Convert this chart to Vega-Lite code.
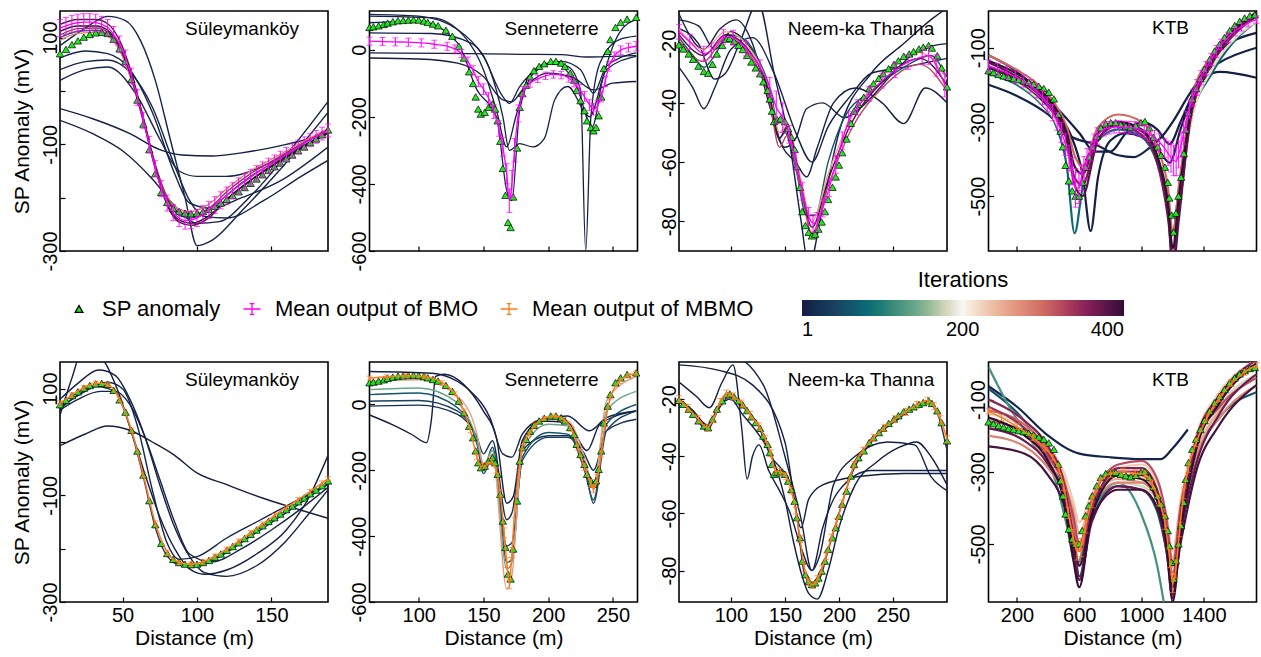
{
"$schema":"https://vega.github.io/schema/vega-lite/v6.json",
"padding":{"left":10,"top":9,"right":0,"bottom":0},
"background":"white",
"config":{
"font":"Liberation Sans",
"view":{"stroke":"black","strokeWidth":1.6},
"axis":{"domain":false,"grid":false,"ticks":true,"tickColor":"black","tickSize":-5,"tickWidth":1.2,"labelFont":"Liberation Sans","labelFontSize":20,"labelColor":"black","labelFlush":false,"labelOverlap":false,"labelBound":false,"titleFont":"Liberation Sans","titleFontSize":21,"titleFontWeight":"normal","titleColor":"black"},
"axisY":{"labelAngle":-90,"labelAlign":"center","labelBaseline":"bottom","labelPadding":5,"titlePadding":8},
"axisX":{"labelPadding":8,"titlePadding":2},
"title":{"anchor":"middle","frame":"group","dx":48,"offset":-28,"baseline":"alphabetic","fontSize":19,"fontWeight":"normal","font":"Liberation Sans","color":"black"},
"legend":{"labelFont":"Liberation Sans","titleFont":"Liberation Sans","labelColor":"black","titleColor":"black","padding":0,"labelLimit":400}
},
"datasets":{
"s_sul":[{"x":8,"y":70},{"x":12,"y":78},{"x":16,"y":87},{"x":20,"y":94},{"x":24,"y":101},{"x":28,"y":106},{"x":32,"y":109},{"x":36,"y":110},{"x":40,"y":108},{"x":44,"y":97},{"x":48,"y":79},{"x":52,"y":56},{"x":56,"y":22},{"x":60,"y":-17},{"x":64,"y":-62},{"x":68,"y":-110},{"x":72,"y":-155},{"x":76,"y":-190},{"x":80,"y":-209},{"x":84,"y":-220},{"x":88,"y":-226},{"x":92,"y":-229},{"x":96,"y":-230},{"x":100,"y":-229},{"x":104,"y":-226},{"x":108,"y":-222},{"x":112,"y":-216},{"x":116,"y":-210},{"x":120,"y":-203},{"x":124,"y":-196},{"x":128,"y":-189},{"x":132,"y":-181},{"x":136,"y":-173},{"x":140,"y":-165},{"x":144,"y":-157},{"x":148,"y":-149},{"x":152,"y":-142},{"x":156,"y":-135},{"x":160,"y":-127},{"x":164,"y":-120},{"x":168,"y":-112},{"x":172,"y":-105},{"x":176,"y":-97},{"x":180,"y":-90},{"x":184,"y":-82},{"x":188,"y":-73}],
"b_sul":[{"x":8,"y":118,"l":102,"h":134},{"x":12,"y":122,"l":106,"h":138},{"x":16,"y":126,"l":110,"h":142},{"x":20,"y":128,"l":112,"h":144},{"x":24,"y":129,"l":113,"h":145},{"x":28,"y":129,"l":113,"h":145},{"x":32,"y":128,"l":112,"h":144},{"x":36,"y":125,"l":110,"h":140},{"x":40,"y":119,"l":104,"h":134},{"x":44,"y":106,"l":91,"h":121},{"x":48,"y":88,"l":73,"h":103},{"x":52,"y":62,"l":47,"h":77},{"x":56,"y":28,"l":13,"h":43},{"x":60,"y":-12,"l":-27,"h":3},{"x":64,"y":-55,"l":-70,"h":-40},{"x":68,"y":-100,"l":-115,"h":-85},{"x":72,"y":-145,"l":-160,"h":-130},{"x":76,"y":-183,"l":-198,"h":-168},{"x":80,"y":-210,"l":-225,"h":-195},{"x":84,"y":-228,"l":-243,"h":-213},{"x":88,"y":-238,"l":-254,"h":-222},{"x":92,"y":-243,"l":-259,"h":-227},{"x":96,"y":-242,"l":-258,"h":-226},{"x":100,"y":-238,"l":-254,"h":-222},{"x":104,"y":-231,"l":-247,"h":-215},{"x":108,"y":-223,"l":-239,"h":-207},{"x":112,"y":-214,"l":-230,"h":-198},{"x":116,"y":-205,"l":-221,"h":-189},{"x":120,"y":-196,"l":-212,"h":-180},{"x":124,"y":-187,"l":-202,"h":-172},{"x":128,"y":-178,"l":-193,"h":-163},{"x":132,"y":-170,"l":-185,"h":-155},{"x":136,"y":-162,"l":-177,"h":-147},{"x":140,"y":-154,"l":-168,"h":-140},{"x":144,"y":-147,"l":-161,"h":-133},{"x":148,"y":-140,"l":-154,"h":-126},{"x":152,"y":-133,"l":-146,"h":-120},{"x":156,"y":-126,"l":-139,"h":-113},{"x":160,"y":-119,"l":-132,"h":-106},{"x":164,"y":-112,"l":-125,"h":-99},{"x":168,"y":-105,"l":-118,"h":-92},{"x":172,"y":-98,"l":-110,"h":-86},{"x":176,"y":-92,"l":-104,"h":-80},{"x":180,"y":-86,"l":-98,"h":-74},{"x":184,"y":-80,"l":-92,"h":-68},{"x":188,"y":-74,"l":-86,"h":-62}],
"m_sul":[{"x":8,"y":73,"l":69,"h":77},{"x":16,"y":88,"l":84,"h":92},{"x":24,"y":102,"l":98,"h":106},{"x":32,"y":110,"l":106,"h":114},{"x":40,"y":108,"l":104,"h":112},{"x":48,"y":80,"l":76,"h":84},{"x":56,"y":22,"l":18,"h":26},{"x":64,"y":-62,"l":-66,"h":-58},{"x":72,"y":-152,"l":-156,"h":-148},{"x":80,"y":-207,"l":-211,"h":-203},{"x":88,"y":-226,"l":-230,"h":-222},{"x":96,"y":-229,"l":-233,"h":-225},{"x":104,"y":-225,"l":-229,"h":-221},{"x":112,"y":-214,"l":-218,"h":-210},{"x":120,"y":-201,"l":-205,"h":-197},{"x":128,"y":-186,"l":-190,"h":-182},{"x":136,"y":-170,"l":-174,"h":-166},{"x":144,"y":-154,"l":-158,"h":-150},{"x":152,"y":-138,"l":-142,"h":-134},{"x":160,"y":-123,"l":-127,"h":-119},{"x":168,"y":-108,"l":-112,"h":-104},{"x":176,"y":-93,"l":-97,"h":-89},{"x":184,"y":-77,"l":-81,"h":-73},{"x":188,"y":-69,"l":-73,"h":-65}],
"t_sul":[
{"i":1,"x":8,"y":-33},{"i":1,"x":30,"y":-52},{"i":1,"x":55,"y":-80},{"i":1,"x":75,"y":-110},{"i":1,"x":90,"y":-120},{"i":1,"x":110,"y":-122},{"i":1,"x":130,"y":-116},{"i":1,"x":160,"y":-100},{"i":1,"x":188,"y":-80},
{"i":3,"x":8,"y":-55},{"i":3,"x":30,"y":-80},{"i":3,"x":50,"y":-112},{"i":3,"x":70,"y":-165},{"i":3,"x":85,"y":-215},{"i":3,"x":100,"y":-248},{"i":3,"x":115,"y":-245},{"i":3,"x":135,"y":-200},{"i":3,"x":160,"y":-120},{"i":3,"x":188,"y":-20},
{"i":5,"x":8,"y":40},{"i":5,"x":25,"y":55},{"i":5,"x":40,"y":58},{"i":5,"x":55,"y":35},{"i":5,"x":70,"y":-30},{"i":5,"x":85,"y":-140},{"i":5,"x":95,"y":-205},{"i":5,"x":105,"y":-235},{"i":5,"x":120,"y":-238},{"i":5,"x":145,"y":-205},{"i":5,"x":170,"y":-160},{"i":5,"x":188,"y":-130},
{"i":7,"x":8,"y":85},{"i":7,"x":25,"y":118},{"i":7,"x":40,"y":140},{"i":7,"x":52,"y":132},{"i":7,"x":62,"y":95},{"i":7,"x":72,"y":20},{"i":7,"x":82,"y":-90},{"i":7,"x":92,"y":-200},{"i":7,"x":100,"y":-290},{"i":7,"x":110,"y":-280},{"i":7,"x":130,"y":-225},{"i":7,"x":155,"y":-150},{"i":7,"x":175,"y":-85},{"i":7,"x":188,"y":-40},
{"i":9,"x":8,"y":62},{"i":9,"x":25,"y":75},{"i":9,"x":40,"y":70},{"i":9,"x":55,"y":40},{"i":9,"x":70,"y":-40},{"i":9,"x":85,"y":-155},{"i":9,"x":95,"y":-210},{"i":9,"x":110,"y":-220},{"i":9,"x":130,"y":-200},{"i":9,"x":155,"y":-170},{"i":9,"x":188,"y":-105},
{"i":12,"x":8,"y":20},{"i":12,"x":25,"y":40},{"i":12,"x":40,"y":45},{"i":12,"x":60,"y":-10},{"i":12,"x":75,"y":-90},{"i":12,"x":88,"y":-150},{"i":12,"x":100,"y":-160},{"i":12,"x":120,"y":-160},{"i":12,"x":145,"y":-140},{"i":12,"x":170,"y":-100},{"i":12,"x":188,"y":-73},
{"i":60,"x":8,"y":100},{"i":60,"x":20,"y":112},{"i":60,"x":32,"y":114},{"i":60,"x":40,"y":106},{"i":60,"x":48,"y":78},{"i":60,"x":56,"y":22},{"i":60,"x":64,"y":-54},{"i":60,"x":72,"y":-139},{"i":60,"x":80,"y":-203},{"i":60,"x":88,"y":-233},{"i":60,"x":96,"y":-238},{"i":60,"x":108,"y":-224},{"i":60,"x":120,"y":-195},{"i":60,"x":136,"y":-160},{"i":60,"x":152,"y":-133},{"i":60,"x":170,"y":-104},{"i":60,"x":188,"y":-80},
{"i":280,"x":8,"y":95},{"i":280,"x":20,"y":108},{"i":280,"x":32,"y":110},{"i":280,"x":40,"y":103},{"i":280,"x":48,"y":76},{"i":280,"x":56,"y":20},{"i":280,"x":64,"y":-56},{"i":280,"x":72,"y":-140},{"i":280,"x":80,"y":-198},{"i":280,"x":88,"y":-222},{"i":280,"x":96,"y":-226},{"i":280,"x":108,"y":-212},{"i":280,"x":120,"y":-183},{"i":280,"x":136,"y":-150},{"i":280,"x":152,"y":-125},{"i":280,"x":170,"y":-97},{"i":280,"x":188,"y":-70},
{"i":340,"x":8,"y":105},{"i":340,"x":20,"y":117},{"i":340,"x":32,"y":118},{"i":340,"x":40,"y":110},{"i":340,"x":48,"y":82},{"i":340,"x":56,"y":26},{"i":340,"x":64,"y":-52},{"i":340,"x":72,"y":-138},{"i":340,"x":80,"y":-200},{"i":340,"x":88,"y":-228},{"i":340,"x":96,"y":-232},{"i":340,"x":108,"y":-220},{"i":340,"x":120,"y":-189},{"i":340,"x":136,"y":-155},{"i":340,"x":152,"y":-129},{"i":340,"x":170,"y":-100},{"i":340,"x":188,"y":-73},
{"i":380,"x":8,"y":125},{"i":380,"x":20,"y":134},{"i":380,"x":32,"y":134},{"i":380,"x":40,"y":126},{"i":380,"x":48,"y":95},{"i":380,"x":56,"y":34},{"i":380,"x":64,"y":-50},{"i":380,"x":72,"y":-143},{"i":380,"x":80,"y":-214},{"i":380,"x":88,"y":-246},{"i":380,"x":96,"y":-252},{"i":380,"x":108,"y":-238},{"i":380,"x":120,"y":-203},{"i":380,"x":136,"y":-167},{"i":380,"x":152,"y":-136},{"i":380,"x":170,"y":-106},{"i":380,"x":188,"y":-76},
{"i":400,"x":8,"y":112},{"i":400,"x":20,"y":122},{"i":400,"x":32,"y":122},{"i":400,"x":40,"y":114},{"i":400,"x":48,"y":84},{"i":400,"x":56,"y":25},{"i":400,"x":64,"y":-57},{"i":400,"x":72,"y":-146},{"i":400,"x":80,"y":-212},{"i":400,"x":88,"y":-242},{"i":400,"x":96,"y":-248},{"i":400,"x":108,"y":-234},{"i":400,"x":120,"y":-203},{"i":400,"x":136,"y":-168},{"i":400,"x":152,"y":-138},{"i":400,"x":170,"y":-108},{"i":400,"x":188,"y":-79}],
"u_sul":[
{"i":1,"x":8,"y":-7},{"i":1,"x":25,"y":15},{"i":1,"x":40,"y":30},{"i":1,"x":55,"y":22},{"i":1,"x":70,"y":0},{"i":1,"x":85,"y":-25},{"i":1,"x":100,"y":-58},{"i":1,"x":120,"y":-80},{"i":1,"x":145,"y":-106},{"i":1,"x":170,"y":-128},{"i":1,"x":188,"y":-143},
{"i":2,"x":8,"y":50},{"i":2,"x":16,"y":120},{"i":2,"x":22,"y":165},{"i":2,"x":30,"y":170},{"i":2,"x":38,"y":150},{"i":2,"x":47,"y":95},{"i":2,"x":56,"y":20},{"i":2,"x":65,"y":-60},{"i":2,"x":75,"y":-140},{"i":2,"x":85,"y":-200},{"i":2,"x":95,"y":-238},{"i":2,"x":105,"y":-248},{"i":2,"x":120,"y":-240},{"i":2,"x":140,"y":-210},{"i":2,"x":160,"y":-165},{"i":2,"x":175,"y":-105},{"i":2,"x":188,"y":-25},
{"i":4,"x":8,"y":80},{"i":4,"x":20,"y":110},{"i":4,"x":34,"y":135},{"i":4,"x":45,"y":125},{"i":4,"x":55,"y":80},{"i":4,"x":65,"y":10},{"i":4,"x":75,"y":-80},{"i":4,"x":85,"y":-160},{"i":4,"x":95,"y":-215},{"i":4,"x":105,"y":-245},{"i":4,"x":120,"y":-252},{"i":4,"x":140,"y":-232},{"i":4,"x":160,"y":-185},{"i":4,"x":175,"y":-135},{"i":4,"x":188,"y":-90},
{"i":6,"x":8,"y":60},{"i":6,"x":20,"y":80},{"i":6,"x":35,"y":95},{"i":6,"x":45,"y":95},{"i":6,"x":55,"y":70},{"i":6,"x":65,"y":10},{"i":6,"x":75,"y":-70},{"i":6,"x":85,"y":-150},{"i":6,"x":95,"y":-210},{"i":6,"x":110,"y":-225},{"i":6,"x":130,"y":-200},{"i":6,"x":150,"y":-165},{"i":6,"x":170,"y":-125},{"i":6,"x":188,"y":-85},
{"i":8,"x":8,"y":65},{"i":8,"x":25,"y":95},{"i":8,"x":40,"y":112},{"i":8,"x":50,"y":100},{"i":8,"x":60,"y":30},{"i":8,"x":70,"y":-90},{"i":8,"x":80,"y":-190},{"i":8,"x":88,"y":-220},{"i":8,"x":100,"y":-215},{"i":8,"x":120,"y":-180},{"i":8,"x":140,"y":-150},{"i":8,"x":160,"y":-120},{"i":8,"x":188,"y":-80},
{"i":30,"x":8,"y":62},{"i":30,"x":20,"y":88},{"i":30,"x":32,"y":104},{"i":30,"x":44,"y":96},{"i":30,"x":56,"y":18},{"i":30,"x":64,"y":-66},{"i":30,"x":72,"y":-160},{"i":30,"x":80,"y":-214},{"i":30,"x":90,"y":-232},{"i":30,"x":100,"y":-233},{"i":30,"x":116,"y":-214},{"i":30,"x":136,"y":-177},{"i":30,"x":156,"y":-140},{"i":30,"x":176,"y":-102},{"i":30,"x":188,"y":-78}],
"s_sen":[{"x":62,"y":66},{"x":65,"y":68},{"x":69,"y":71},{"x":73,"y":75},{"x":76,"y":79},{"x":80,"y":83},{"x":84,"y":86},{"x":88,"y":87},{"x":92,"y":88},{"x":96,"y":89},{"x":100,"y":88},{"x":104,"y":85},{"x":107,"y":81},{"x":111,"y":76},{"x":115,"y":71},{"x":121,"y":58},{"x":126,"y":40},{"x":131,"y":10},{"x":135,"y":-25},{"x":139,"y":-66},{"x":142,"y":-101},{"x":144,"y":-141},{"x":146,"y":-177},{"x":148,"y":-192},{"x":151,"y":-187},{"x":154,"y":-172},{"x":157,"y":-162},{"x":159,"y":-177},{"x":161,"y":-212},{"x":163,"y":-273},{"x":165,"y":-354},{"x":167,"y":-434},{"x":169,"y":-515},{"x":171,"y":-530},{"x":173,"y":-439},{"x":176,"y":-293},{"x":178,"y":-172},{"x":180,"y":-131},{"x":183,"y":-106},{"x":186,"y":-81},{"x":189,"y":-63},{"x":193,"y":-50},{"x":197,"y":-42},{"x":202,"y":-35},{"x":206,"y":-35},{"x":210,"y":-40},{"x":213,"y":-50},{"x":217,"y":-70},{"x":220,"y":-91},{"x":222,"y":-121},{"x":225,"y":-152},{"x":228,"y":-182},{"x":230,"y":-212},{"x":233,"y":-232},{"x":235,"y":-242},{"x":237,"y":-232},{"x":239,"y":-197},{"x":241,"y":-141},{"x":243,"y":-56},{"x":246,"y":-5},{"x":248,"y":30},{"x":252,"y":66},{"x":256,"y":81},{"x":261,"y":91},{"x":268,"y":96}],
"b_sen":[{"x":62,"y":25,"l":13,"h":37},{"x":72,"y":24,"l":12,"h":36},{"x":82,"y":23,"l":11,"h":35},{"x":92,"y":22,"l":10,"h":34},{"x":102,"y":20,"l":8,"h":32},{"x":112,"y":16,"l":4,"h":28},{"x":122,"y":10,"l":-2,"h":22},{"x":128,"y":2,"l":-10,"h":14},{"x":133,"y":-12,"l":-24,"h":0},{"x":138,"y":-35,"l":-48,"h":-22},{"x":142,"y":-62,"l":-76,"h":-48},{"x":146,"y":-95,"l":-110,"h":-80},{"x":150,"y":-118,"l":-134,"h":-102},{"x":154,"y":-145,"l":-162,"h":-128},{"x":158,"y":-185,"l":-205,"h":-165},{"x":162,"y":-235,"l":-258,"h":-212},{"x":165,"y":-290,"l":-318,"h":-262},{"x":168,"y":-370,"l":-400,"h":-340},{"x":170,"y":-450,"l":-485,"h":-415},{"x":172,"y":-400,"l":-440,"h":-360},{"x":174,"y":-300,"l":-335,"h":-265},{"x":177,"y":-190,"l":-215,"h":-165},{"x":181,"y":-125,"l":-140,"h":-110},{"x":186,"y":-100,"l":-112,"h":-88},{"x":192,"y":-87,"l":-98,"h":-76},{"x":198,"y":-78,"l":-89,"h":-67},{"x":204,"y":-74,"l":-85,"h":-63},{"x":210,"y":-76,"l":-87,"h":-65},{"x":216,"y":-85,"l":-97,"h":-73},{"x":220,"y":-98,"l":-111,"h":-85},{"x":224,"y":-118,"l":-132,"h":-104},{"x":228,"y":-140,"l":-155,"h":-125},{"x":232,"y":-165,"l":-181,"h":-149},{"x":235,"y":-178,"l":-195,"h":-161},{"x":238,"y":-168,"l":-185,"h":-151},{"x":241,"y":-140,"l":-156,"h":-124},{"x":244,"y":-95,"l":-110,"h":-80},{"x":247,"y":-50,"l":-64,"h":-36},{"x":251,"y":-20,"l":-33,"h":-7},{"x":256,"y":-2,"l":-15,"h":11},{"x":262,"y":6,"l":-7,"h":19},{"x":268,"y":10,"l":-4,"h":24}],
"m_sen":[{"x":62,"y":80,"l":74,"h":86},{"x":75,"y":84,"l":78,"h":90},{"x":90,"y":87,"l":81,"h":93},{"x":105,"y":84,"l":78,"h":90},{"x":118,"y":66,"l":60,"h":72},{"x":128,"y":32,"l":26,"h":38},{"x":135,"y":-20,"l":-26,"h":-14},{"x":140,"y":-80,"l":-86,"h":-74},{"x":145,"y":-160,"l":-168,"h":-152},{"x":148,"y":-188,"l":-196,"h":-180},{"x":152,"y":-185,"l":-193,"h":-177},{"x":156,"y":-175,"l":-183,"h":-167},{"x":160,"y":-200,"l":-208,"h":-192},{"x":163,"y":-270,"l":-282,"h":-258},{"x":166,"y":-390,"l":-405,"h":-375},{"x":168,"y":-480,"l":-495,"h":-465},{"x":170,"y":-545,"l":-560,"h":-530},{"x":172,"y":-450,"l":-465,"h":-435},{"x":174,"y":-330,"l":-345,"h":-315},{"x":177,"y":-210,"l":-222,"h":-198},{"x":180,"y":-130,"l":-138,"h":-122},{"x":185,"y":-90,"l":-96,"h":-84},{"x":190,"y":-62,"l":-68,"h":-56},{"x":197,"y":-42,"l":-48,"h":-36},{"x":205,"y":-35,"l":-41,"h":-29},{"x":212,"y":-46,"l":-52,"h":-40},{"x":218,"y":-75,"l":-81,"h":-69},{"x":223,"y":-130,"l":-138,"h":-122},{"x":228,"y":-190,"l":-200,"h":-180},{"x":233,"y":-240,"l":-252,"h":-228},{"x":235,"y":-255,"l":-267,"h":-243},{"x":238,"y":-225,"l":-237,"h":-213},{"x":241,"y":-150,"l":-160,"h":-140},{"x":244,"y":-60,"l":-68,"h":-52},{"x":248,"y":20,"l":14,"h":26},{"x":255,"y":70,"l":64,"h":76},{"x":262,"y":88,"l":82,"h":94},{"x":268,"y":95,"l":89,"h":101}],
"t_sen":[
{"i":1,"x":62,"y":-10},{"i":1,"x":120,"y":-11},{"i":1,"x":180,"y":-14},{"i":1,"x":210,"y":-15},{"i":1,"x":230,"y":-22},{"i":1,"x":250,"y":-20},{"i":1,"x":268,"y":-18},
{"i":2,"x":62,"y":-25},{"i":2,"x":100,"y":-28},{"i":2,"x":130,"y":-40},{"i":2,"x":150,"y":-80},{"i":2,"x":165,"y":-150},{"i":2,"x":172,"y":-155},{"i":2,"x":180,"y":-120},{"i":2,"x":200,"y":-70},{"i":2,"x":220,"y":-85},{"i":2,"x":235,"y":-120},{"i":2,"x":250,"y":-100},{"i":2,"x":268,"y":-95},
{"i":3,"x":62,"y":100},{"i":3,"x":110,"y":95},{"i":3,"x":135,"y":40},{"i":3,"x":150,"y":-60},{"i":3,"x":160,"y":-180},{"i":3,"x":168,"y":-290},{"i":3,"x":175,"y":-200},{"i":3,"x":185,"y":-80},{"i":3,"x":200,"y":-40},{"i":3,"x":215,"y":-50},{"i":3,"x":225,"y":-120},{"i":3,"x":229,"y":-600},{"i":3,"x":233,"y":-200},{"i":3,"x":240,"y":-40},{"i":3,"x":255,"y":30},{"i":3,"x":268,"y":40},
{"i":4,"x":62,"y":50},{"i":4,"x":110,"y":48},{"i":4,"x":140,"y":20},{"i":4,"x":155,"y":-60},{"i":4,"x":165,"y":-200},{"i":4,"x":170,"y":-300},{"i":4,"x":178,"y":-280},{"i":4,"x":188,"y":-290},{"i":4,"x":197,"y":-265},{"i":4,"x":205,"y":-150},{"i":4,"x":215,"y":-110},{"i":4,"x":232,"y":-200},{"i":4,"x":245,"y":-60},{"i":4,"x":268,"y":-20},
{"i":5,"x":62,"y":105},{"i":5,"x":100,"y":100},{"i":5,"x":130,"y":60},{"i":5,"x":150,"y":-20},{"i":5,"x":165,"y":-140},{"i":5,"x":170,"y":-160},{"i":5,"x":178,"y":-110},{"i":5,"x":195,"y":-50},{"i":5,"x":210,"y":-35},{"i":5,"x":225,"y":-60},{"i":5,"x":235,"y":-130},{"i":5,"x":245,"y":-50},{"i":5,"x":268,"y":-10},
{"i":10,"x":62,"y":80},{"i":10,"x":100,"y":85},{"i":10,"x":130,"y":20},{"i":10,"x":145,"y":-120},{"i":10,"x":160,"y":-200},{"i":10,"x":168,"y":-420},{"i":10,"x":172,"y":-450},{"i":10,"x":178,"y":-180},{"i":10,"x":190,"y":-65},{"i":10,"x":205,"y":-40},{"i":10,"x":222,"y":-110},{"i":10,"x":234,"y":-230},{"i":10,"x":242,"y":-90},{"i":10,"x":255,"y":50},{"i":10,"x":268,"y":90}],
"u_sen":[
{"i":1,"x":62,"y":-32},{"i":1,"x":80,"y":-62},{"i":1,"x":95,"y":-92},{"i":1,"x":106,"y":-116},{"i":1,"x":110,"y":-40},{"i":1,"x":113,"y":85},{"i":1,"x":120,"y":92},{"i":1,"x":135,"y":60},{"i":1,"x":150,"y":-20},{"i":1,"x":160,"y":-100},{"i":1,"x":168,"y":-300},{"i":1,"x":173,"y":-280},{"i":1,"x":180,"y":-110},{"i":1,"x":195,"y":-50},{"i":1,"x":215,"y":-55},{"i":1,"x":230,"y":-140},{"i":1,"x":240,"y":-60},{"i":1,"x":268,"y":-20},
{"i":5,"x":62,"y":100},{"i":5,"x":110,"y":95},{"i":5,"x":125,"y":80},{"i":5,"x":140,"y":40},{"i":5,"x":155,"y":-40},{"i":5,"x":165,"y":-150},{"i":5,"x":172,"y":-160},{"i":5,"x":180,"y":-90},{"i":5,"x":195,"y":-45},{"i":5,"x":215,"y":-35},{"i":5,"x":232,"y":-80},{"i":5,"x":245,"y":-40},{"i":5,"x":268,"y":-20},
{"i":20,"x":62,"y":-5},{"i":20,"x":100,"y":-2},{"i":20,"x":130,"y":-30},{"i":20,"x":145,"y":-100},{"i":20,"x":150,"y":-150},{"i":20,"x":157,"y":-110},{"i":20,"x":168,"y":-350},{"i":20,"x":172,"y":-330},{"i":20,"x":180,"y":-140},{"i":20,"x":200,"y":-95},{"i":20,"x":215,"y":-95},{"i":20,"x":228,"y":-150},{"i":20,"x":235,"y":-200},{"i":20,"x":245,"y":-80},{"i":20,"x":268,"y":-45},
{"i":40,"x":62,"y":10},{"i":40,"x":100,"y":12},{"i":40,"x":130,"y":-20},{"i":40,"x":145,"y":-110},{"i":40,"x":150,"y":-200},{"i":40,"x":157,"y":-130},{"i":40,"x":168,"y":-430},{"i":40,"x":172,"y":-420},{"i":40,"x":180,"y":-170},{"i":40,"x":200,"y":-100},{"i":40,"x":215,"y":-100},{"i":40,"x":228,"y":-180},{"i":40,"x":235,"y":-300},{"i":40,"x":245,"y":-80},{"i":40,"x":268,"y":-20},
{"i":60,"x":62,"y":30},{"i":60,"x":100,"y":35},{"i":60,"x":130,"y":-10},{"i":60,"x":145,"y":-120},{"i":60,"x":150,"y":-210},{"i":60,"x":158,"y":-150},{"i":60,"x":168,"y":-480},{"i":60,"x":172,"y":-470},{"i":60,"x":180,"y":-160},{"i":60,"x":200,"y":-85},{"i":60,"x":215,"y":-90},{"i":60,"x":228,"y":-200},{"i":60,"x":235,"y":-290},{"i":60,"x":245,"y":-60},{"i":60,"x":268,"y":0},
{"i":140,"x":62,"y":45},{"i":140,"x":100,"y":50},{"i":140,"x":130,"y":5},{"i":140,"x":145,"y":-110},{"i":140,"x":150,"y":-185},{"i":140,"x":157,"y":-140},{"i":140,"x":168,"y":-500},{"i":140,"x":172,"y":-480},{"i":140,"x":180,"y":-140},{"i":140,"x":200,"y":-60},{"i":140,"x":215,"y":-65},{"i":140,"x":228,"y":-170},{"i":140,"x":235,"y":-240},{"i":140,"x":245,"y":-20},{"i":140,"x":268,"y":40},
{"i":260,"x":62,"y":70},{"i":260,"x":100,"y":75},{"i":260,"x":130,"y":25},{"i":260,"x":145,"y":-90},{"i":260,"x":150,"y":-180},{"i":260,"x":157,"y":-150},{"i":260,"x":168,"y":-560},{"i":260,"x":172,"y":-520},{"i":260,"x":180,"y":-130},{"i":260,"x":200,"y":-45},{"i":260,"x":215,"y":-50},{"i":260,"x":228,"y":-160},{"i":260,"x":235,"y":-260},{"i":260,"x":245,"y":10},{"i":260,"x":268,"y":85}],
"s_nee":[{"x":52,"y":-20.4},{"x":56,"y":-21.8},{"x":61,"y":-23.5},{"x":65,"y":-25.3},{"x":70,"y":-27.6},{"x":75,"y":-29.4},{"x":79,"y":-30},{"x":83,"y":-27},{"x":87,"y":-23.5},{"x":92,"y":-20.6},{"x":96,"y":-18.5},{"x":99,"y":-18.2},{"x":103,"y":-19.2},{"x":107,"y":-20.6},{"x":111,"y":-22},{"x":115,"y":-24},{"x":119,"y":-26.2},{"x":123,"y":-28.2},{"x":127,"y":-30.2},{"x":130,"y":-32.9},{"x":134,"y":-35.8},{"x":136,"y":-38.7},{"x":138,"y":-42.8},{"x":140,"y":-46.3},{"x":143,"y":-45.7},{"x":146,"y":-45.4},{"x":150,"y":-46.3},{"x":153,"y":-48.7},{"x":156,"y":-51.6},{"x":159,"y":-55.7},{"x":161,"y":-61.5},{"x":164,"y":-68.5},{"x":166,"y":-76.7},{"x":169,"y":-81.4},{"x":172,"y":-83.7},{"x":175,"y":-84.9},{"x":178,"y":-84.3},{"x":181,"y":-82.6},{"x":184,"y":-80.2},{"x":187,"y":-76.7},{"x":190,"y":-72.6},{"x":194,"y":-68.5},{"x":197,"y":-65},{"x":200,"y":-61},{"x":203,"y":-56.8},{"x":207,"y":-52.2},{"x":211,"y":-46.9},{"x":214,"y":-42.8},{"x":218,"y":-40.5},{"x":223,"y":-38.1},{"x":228,"y":-35.2},{"x":232,"y":-33.5},{"x":237,"y":-31.7},{"x":241,"y":-30.2},{"x":246,"y":-28.5},{"x":251,"y":-27},{"x":255,"y":-25.8},{"x":260,"y":-24.3},{"x":265,"y":-23.5},{"x":269,"y":-22.7},{"x":274,"y":-21.8},{"x":278,"y":-21.2},{"x":283,"y":-20.6},{"x":286,"y":-21.5},{"x":291,"y":-24.1},{"x":295,"y":-28.2},{"x":300,"y":-34.6}],
"b_nee":[{"x":52,"y":-16,"l":-18.5,"h":-13.5},{"x":62,"y":-19.4,"l":-21.9,"h":-16.9},{"x":75,"y":-23.4,"l":-25.9,"h":-20.9},{"x":82,"y":-22.3,"l":-24.8,"h":-19.8},{"x":93,"y":-17.7,"l":-20.2,"h":-15.2},{"x":102,"y":-18,"l":-20.5,"h":-15.5},{"x":114,"y":-21.7,"l":-24.2,"h":-19.2},{"x":127,"y":-28,"l":-30.5,"h":-25.5},{"x":136,"y":-34.7,"l":-38,"h":-31.4},{"x":142,"y":-41.5,"l":-47,"h":-36},{"x":148,"y":-45,"l":-50,"h":-40},{"x":154,"y":-50.6,"l":-53.6,"h":-47.6},{"x":160,"y":-59.6,"l":-62.6,"h":-56.6},{"x":166,"y":-69.8,"l":-72.8,"h":-66.8},{"x":172,"y":-78.3,"l":-81.3,"h":-75.3},{"x":176,"y":-80.6,"l":-83.6,"h":-77.6},{"x":180,"y":-80,"l":-83,"h":-77},{"x":185,"y":-75.5,"l":-78.5,"h":-72.5},{"x":191,"y":-68.7,"l":-71.7,"h":-65.7},{"x":197,"y":-60.8,"l":-63.8,"h":-57.8},{"x":203,"y":-52.8,"l":-55.8,"h":-49.8},{"x":209,"y":-46,"l":-49,"h":-43},{"x":217,"y":-41.5,"l":-44,"h":-39},{"x":228,"y":-37,"l":-39.5,"h":-34.5},{"x":240,"y":-32.5,"l":-35,"h":-30},{"x":252,"y":-29,"l":-31.5,"h":-26.5},{"x":264,"y":-26.2,"l":-28.7,"h":-23.7},{"x":277,"y":-24.5,"l":-27,"h":-22},{"x":283,"y":-24,"l":-27,"h":-21},{"x":290,"y":-27.4,"l":-31,"h":-23.8},{"x":298,"y":-34,"l":-38,"h":-30}],
"m_nee":[{"x":52,"y":-20,"l":-21.2,"h":-18.8},{"x":60,"y":-23,"l":-24.2,"h":-21.8},{"x":70,"y":-27,"l":-28.2,"h":-25.8},{"x":78,"y":-30,"l":-31.2,"h":-28.8},{"x":84,"y":-27,"l":-28.2,"h":-25.8},{"x":90,"y":-21,"l":-22.2,"h":-19.8},{"x":96,"y":-18,"l":-19.2,"h":-16.8},{"x":102,"y":-19,"l":-20.2,"h":-17.8},{"x":110,"y":-21.5,"l":-22.7,"h":-20.3},{"x":118,"y":-25.5,"l":-26.7,"h":-24.3},{"x":126,"y":-29.5,"l":-30.7,"h":-28.3},{"x":132,"y":-34,"l":-35.2,"h":-32.8},{"x":137,"y":-39,"l":-40.2,"h":-37.8},{"x":141,"y":-45,"l":-46.2,"h":-43.8},{"x":146,"y":-45.5,"l":-46.7,"h":-44.3},{"x":151,"y":-47,"l":-48.2,"h":-45.8},{"x":156,"y":-52,"l":-53.2,"h":-50.8},{"x":160,"y":-59,"l":-60.2,"h":-57.8},{"x":164,"y":-69,"l":-70.2,"h":-67.8},{"x":168,"y":-79,"l":-80.2,"h":-77.8},{"x":172,"y":-84,"l":-85.2,"h":-82.8},{"x":176,"y":-85,"l":-86.2,"h":-83.8},{"x":180,"y":-83,"l":-84.2,"h":-81.8},{"x":184,"y":-79.5,"l":-80.7,"h":-78.3},{"x":188,"y":-75,"l":-76.2,"h":-73.8},{"x":193,"y":-68.5,"l":-69.7,"h":-67.3},{"x":198,"y":-63,"l":-64.2,"h":-61.8},{"x":203,"y":-56.5,"l":-57.7,"h":-55.3},{"x":208,"y":-50,"l":-51.2,"h":-48.8},{"x":214,"y":-43,"l":-44.2,"h":-41.8},{"x":222,"y":-38,"l":-39.2,"h":-36.8},{"x":232,"y":-33.5,"l":-34.7,"h":-32.3},{"x":242,"y":-30,"l":-31.2,"h":-28.8},{"x":252,"y":-27,"l":-28.2,"h":-25.8},{"x":262,"y":-24.5,"l":-25.7,"h":-23.3},{"x":272,"y":-22,"l":-23.2,"h":-20.8},{"x":282,"y":-20.5,"l":-21.7,"h":-19.3},{"x":288,"y":-22.5,"l":-23.7,"h":-21.3},{"x":294,"y":-27,"l":-28.2,"h":-25.8},{"x":300,"y":-34,"l":-35.2,"h":-32.8}],
"t_nee":[
{"i":1,"x":52,"y":-15},{"i":1,"x":70,"y":-20},{"i":1,"x":85,"y":-32},{"i":1,"x":95,"y":-30},{"i":1,"x":110,"y":-18},{"i":1,"x":125,"y":-6},{"i":1,"x":140,"y":-30},{"i":1,"x":155,"y":-55},{"i":1,"x":165,"y":-80},{"i":1,"x":172,"y":-95},{"i":1,"x":185,"y":-75},{"i":1,"x":200,"y":-50},{"i":1,"x":230,"y":-30},{"i":1,"x":260,"y":-20},{"i":1,"x":285,"y":-12},{"i":1,"x":300,"y":-8},
{"i":2,"x":52,"y":-10},{"i":2,"x":75,"y":-22},{"i":2,"x":90,"y":-15},{"i":2,"x":105,"y":-12},{"i":2,"x":120,"y":-20},{"i":2,"x":135,"y":-40},{"i":2,"x":148,"y":-55},{"i":2,"x":160,"y":-60},{"i":2,"x":170,"y":-65},{"i":2,"x":180,"y":-55},{"i":2,"x":195,"y":-40},{"i":2,"x":215,"y":-35},{"i":2,"x":240,"y":-40},{"i":2,"x":260,"y":-47},{"i":2,"x":280,"y":-35},{"i":2,"x":300,"y":-40},
{"i":4,"x":52,"y":-28},{"i":4,"x":65,"y":-35},{"i":4,"x":75,"y":-42},{"i":4,"x":85,"y":-35},{"i":4,"x":100,"y":-22},{"i":4,"x":120,"y":-18},{"i":4,"x":140,"y":-30},{"i":4,"x":160,"y":-50},{"i":4,"x":175,"y":-60},{"i":4,"x":190,"y":-48},{"i":4,"x":210,"y":-38},{"i":4,"x":230,"y":-30},{"i":4,"x":260,"y":-28},{"i":4,"x":300,"y":-25},
{"i":6,"x":52,"y":-12},{"i":6,"x":70,"y":-14},{"i":6,"x":85,"y":-22},{"i":6,"x":100,"y":-16},{"i":6,"x":115,"y":-20},{"i":6,"x":130,"y":-30},{"i":6,"x":142,"y":-50},{"i":6,"x":150,"y":-55},{"i":6,"x":160,"y":-52},{"i":6,"x":170,"y":-42},{"i":6,"x":185,"y":-40},{"i":6,"x":205,"y":-45},{"i":6,"x":225,"y":-40},{"i":6,"x":250,"y":-30},{"i":6,"x":275,"y":-22},{"i":6,"x":300,"y":-20},
{"i":60,"x":52,"y":-18},{"i":60,"x":65,"y":-24},{"i":60,"x":75,"y":-28},{"i":60,"x":85,"y":-24},{"i":60,"x":98,"y":-17},{"i":60,"x":110,"y":-18},{"i":60,"x":125,"y":-25},{"i":60,"x":138,"y":-38},{"i":60,"x":145,"y":-52},{"i":60,"x":150,"y":-50},{"i":60,"x":160,"y":-62},{"i":60,"x":170,"y":-78},{"i":60,"x":178,"y":-78},{"i":60,"x":190,"y":-60},{"i":60,"x":205,"y":-45},{"i":60,"x":230,"y":-36},{"i":60,"x":260,"y":-28},{"i":60,"x":285,"y":-24},{"i":60,"x":300,"y":-32},
{"i":250,"x":52,"y":-15},{"i":250,"x":75,"y":-22},{"i":250,"x":95,"y":-16},{"i":250,"x":118,"y":-22},{"i":250,"x":135,"y":-35},{"i":250,"x":145,"y":-50},{"i":250,"x":152,"y":-47},{"i":250,"x":165,"y":-66},{"i":250,"x":175,"y":-80},{"i":250,"x":190,"y":-64},{"i":250,"x":210,"y":-46},{"i":250,"x":240,"y":-31},{"i":250,"x":275,"y":-23},{"i":250,"x":300,"y":-32},
{"i":320,"x":52,"y":-19},{"i":320,"x":75,"y":-26},{"i":320,"x":95,"y":-18},{"i":320,"x":118,"y":-24},{"i":320,"x":135,"y":-38},{"i":320,"x":145,"y":-55},{"i":320,"x":152,"y":-51},{"i":320,"x":165,"y":-70},{"i":320,"x":175,"y":-84},{"i":320,"x":190,"y":-68},{"i":320,"x":210,"y":-50},{"i":320,"x":240,"y":-35},{"i":320,"x":275,"y":-27},{"i":320,"x":300,"y":-36},
{"i":390,"x":52,"y":-17},{"i":390,"x":75,"y":-24},{"i":390,"x":95,"y":-17},{"i":390,"x":118,"y":-23},{"i":390,"x":135,"y":-36},{"i":390,"x":145,"y":-52},{"i":390,"x":152,"y":-48},{"i":390,"x":165,"y":-68},{"i":390,"x":175,"y":-82},{"i":390,"x":190,"y":-66},{"i":390,"x":210,"y":-48},{"i":390,"x":240,"y":-33},{"i":390,"x":275,"y":-25},{"i":390,"x":300,"y":-34}],
"u_nee":[
{"i":1,"x":52,"y":-20},{"i":1,"x":65,"y":-24},{"i":1,"x":78,"y":-29},{"i":1,"x":90,"y":-22},{"i":1,"x":100,"y":-20},{"i":1,"x":110,"y":-25},{"i":1,"x":125,"y":-32},{"i":1,"x":140,"y":-42},{"i":1,"x":150,"y":-55},{"i":1,"x":158,"y":-70},{"i":1,"x":166,"y":-82},{"i":1,"x":172,"y":-88},{"i":1,"x":180,"y":-90},{"i":1,"x":190,"y":-80},{"i":1,"x":200,"y":-65},{"i":1,"x":215,"y":-50},{"i":1,"x":235,"y":-42},{"i":1,"x":255,"y":-37},{"i":1,"x":272,"y":-35},{"i":1,"x":285,"y":-40},{"i":1,"x":300,"y":-50},
{"i":2,"x":52,"y":-14},{"i":2,"x":68,"y":-19},{"i":2,"x":80,"y":-23},{"i":2,"x":92,"y":-14},{"i":2,"x":102,"y":-8},{"i":2,"x":110,"y":-30},{"i":2,"x":115,"y":-48},{"i":2,"x":120,"y":-40},{"i":2,"x":126,"y":-36},{"i":2,"x":135,"y":-45},{"i":2,"x":145,"y":-52},{"i":2,"x":155,"y":-60},{"i":2,"x":165,"y":-72},{"i":2,"x":175,"y":-80},{"i":2,"x":185,"y":-65},{"i":2,"x":200,"y":-52},{"i":2,"x":230,"y":-45},{"i":2,"x":300,"y":-45},
{"i":3,"x":52,"y":-8},{"i":3,"x":90,"y":-10},{"i":3,"x":120,"y":-15},{"i":3,"x":150,"y":-35},{"i":3,"x":165,"y":-65},{"i":3,"x":172,"y":-55},{"i":3,"x":185,"y":-50},{"i":3,"x":220,"y":-47},{"i":3,"x":260,"y":-46},{"i":3,"x":300,"y":-46},
{"i":4,"x":52,"y":-5},{"i":4,"x":100,"y":-5},{"i":4,"x":130,"y":-15},{"i":4,"x":150,"y":-40},{"i":4,"x":165,"y":-62},{"i":4,"x":175,"y":-80},{"i":4,"x":182,"y":-75},{"i":4,"x":195,"y":-50},{"i":4,"x":215,"y":-40},{"i":4,"x":245,"y":-35},{"i":4,"x":270,"y":-36},{"i":4,"x":285,"y":-47},{"i":4,"x":300,"y":-52},
{"i":30,"x":52,"y":-21},{"i":30,"x":65,"y":-25},{"i":30,"x":78,"y":-31},{"i":30,"x":88,"y":-24},{"i":30,"x":99,"y":-19},{"i":30,"x":112,"y":-23},{"i":30,"x":125,"y":-29},{"i":30,"x":137,"y":-40},{"i":30,"x":146,"y":-44},{"i":30,"x":152,"y":-47},{"i":30,"x":160,"y":-58},{"i":30,"x":168,"y":-81},{"i":30,"x":175,"y":-85},{"i":30,"x":182,"y":-83},{"i":30,"x":190,"y":-73},{"i":30,"x":200,"y":-60},{"i":30,"x":212,"y":-46},{"i":30,"x":230,"y":-35},{"i":30,"x":255,"y":-27},{"i":30,"x":280,"y":-21},{"i":30,"x":290,"y":-24},{"i":30,"x":300,"y":-38}],
"s_ktb":[{"x":17,"y":-162},{"x":49,"y":-167},{"x":82,"y":-172},{"x":114,"y":-176},{"x":146,"y":-180},{"x":178,"y":-183},{"x":211,"y":-186},{"x":243,"y":-189},{"x":275,"y":-193},{"x":307,"y":-198},{"x":340,"y":-204},{"x":372,"y":-210},{"x":404,"y":-220},{"x":437,"y":-238},{"x":464,"y":-279},{"x":480,"y":-325},{"x":495,"y":-367},{"x":512,"y":-417},{"x":533,"y":-459},{"x":555,"y":-486},{"x":576,"y":-500},{"x":598,"y":-500},{"x":619,"y":-463},{"x":641,"y":-422},{"x":662,"y":-394},{"x":684,"y":-367},{"x":712,"y":-339},{"x":738,"y":-316},{"x":770,"y":-305},{"x":802,"y":-302},{"x":834,"y":-302},{"x":867,"y":-307},{"x":899,"y":-311},{"x":931,"y":-314},{"x":963,"y":-310},{"x":996,"y":-302},{"x":1021,"y":-299},{"x":1049,"y":-316},{"x":1077,"y":-342},{"x":1103,"y":-367},{"x":1125,"y":-390},{"x":1150,"y":-422},{"x":1168,"y":-463},{"x":1178,"y":-505},{"x":1193,"y":-551},{"x":1206,"y":-597},{"x":1221,"y":-546},{"x":1237,"y":-500},{"x":1254,"y":-449},{"x":1271,"y":-385},{"x":1284,"y":-321},{"x":1301,"y":-275},{"x":1325,"y":-238},{"x":1350,"y":-210},{"x":1378,"y":-183},{"x":1404,"y":-158},{"x":1437,"y":-132},{"x":1469,"y":-109},{"x":1501,"y":-91},{"x":1533,"y":-72},{"x":1566,"y":-54},{"x":1598,"y":-40},{"x":1630,"y":-29},{"x":1662,"y":-20},{"x":1695,"y":-14},{"x":1727,"y":-11}],
"b_ktb":[{"x":17,"y":-149,"l":-165,"h":-133},{"x":76,"y":-158,"l":-174,"h":-142},{"x":135,"y":-167,"l":-183,"h":-151},{"x":190,"y":-178,"l":-194,"h":-162},{"x":243,"y":-190,"l":-206,"h":-174},{"x":290,"y":-203,"l":-220,"h":-186},{"x":329,"y":-217,"l":-235,"h":-199},{"x":364,"y":-234,"l":-253,"h":-215},{"x":394,"y":-253,"l":-273,"h":-233},{"x":428,"y":-275,"l":-297,"h":-253},{"x":458,"y":-298,"l":-322,"h":-274},{"x":486,"y":-328,"l":-355,"h":-301},{"x":512,"y":-361,"l":-390,"h":-332},{"x":535,"y":-398,"l":-432,"h":-364},{"x":555,"y":-433,"l":-470,"h":-396},{"x":576,"y":-478,"l":-530,"h":-426},{"x":598,"y":-478,"l":-520,"h":-436},{"x":614,"y":-450,"l":-485,"h":-415},{"x":630,"y":-424,"l":-455,"h":-393},{"x":650,"y":-400,"l":-428,"h":-372},{"x":673,"y":-379,"l":-405,"h":-353},{"x":695,"y":-357,"l":-381,"h":-333},{"x":716,"y":-338,"l":-360,"h":-316},{"x":759,"y":-320,"l":-338,"h":-302},{"x":792,"y":-316,"l":-333,"h":-299},{"x":824,"y":-314,"l":-330,"h":-298},{"x":856,"y":-313,"l":-329,"h":-297},{"x":888,"y":-314,"l":-330,"h":-298},{"x":920,"y":-315,"l":-331,"h":-299},{"x":953,"y":-316,"l":-333,"h":-299},{"x":985,"y":-320,"l":-338,"h":-302},{"x":1017,"y":-325,"l":-343,"h":-307},{"x":1050,"y":-333,"l":-352,"h":-314},{"x":1082,"y":-343,"l":-363,"h":-323},{"x":1115,"y":-355,"l":-378,"h":-332},{"x":1146,"y":-370,"l":-395,"h":-345},{"x":1170,"y":-385,"l":-418,"h":-352},{"x":1189,"y":-397,"l":-435,"h":-359},{"x":1206,"y":-404,"l":-445,"h":-363},{"x":1222,"y":-406,"l":-445,"h":-367},{"x":1238,"y":-388,"l":-424,"h":-352},{"x":1254,"y":-361,"l":-395,"h":-327},{"x":1270,"y":-330,"l":-360,"h":-300},{"x":1286,"y":-298,"l":-325,"h":-271},{"x":1308,"y":-265,"l":-290,"h":-240},{"x":1329,"y":-235,"l":-258,"h":-212},{"x":1356,"y":-207,"l":-228,"h":-186},{"x":1383,"y":-181,"l":-200,"h":-162},{"x":1415,"y":-155,"l":-173,"h":-137},{"x":1447,"y":-132,"l":-148,"h":-116},{"x":1480,"y":-110,"l":-126,"h":-94},{"x":1512,"y":-91,"l":-105,"h":-77},{"x":1555,"y":-72,"l":-86,"h":-58},{"x":1598,"y":-55,"l":-68,"h":-42},{"x":1641,"y":-43,"l":-55,"h":-31},{"x":1684,"y":-33,"l":-44,"h":-22},{"x":1738,"y":-24,"l":-34,"h":-14}],
"m_ktb":[{"x":17,"y":-132,"l":-140,"h":-124},{"x":100,"y":-150,"l":-158,"h":-142},{"x":200,"y":-175,"l":-183,"h":-167},{"x":300,"y":-205,"l":-213,"h":-197},{"x":380,"y":-235,"l":-243,"h":-227},{"x":430,"y":-260,"l":-268,"h":-252},{"x":470,"y":-295,"l":-305,"h":-285},{"x":500,"y":-340,"l":-352,"h":-328},{"x":530,"y":-415,"l":-430,"h":-400},{"x":560,"y":-480,"l":-500,"h":-460},{"x":585,"y":-520,"l":-545,"h":-495},{"x":610,"y":-510,"l":-535,"h":-485},{"x":640,"y":-450,"l":-470,"h":-430},{"x":680,"y":-385,"l":-400,"h":-370},{"x":730,"y":-330,"l":-342,"h":-318},{"x":800,"y":-305,"l":-315,"h":-295},{"x":880,"y":-300,"l":-310,"h":-290},{"x":960,"y":-305,"l":-315,"h":-295},{"x":1020,"y":-308,"l":-318,"h":-298},{"x":1070,"y":-335,"l":-347,"h":-323},{"x":1110,"y":-380,"l":-395,"h":-365},{"x":1150,"y":-440,"l":-460,"h":-420},{"x":1180,"y":-540,"l":-565,"h":-515},{"x":1200,"y":-610,"l":-635,"h":-585},{"x":1220,"y":-570,"l":-595,"h":-545},{"x":1245,"y":-460,"l":-480,"h":-440},{"x":1270,"y":-360,"l":-375,"h":-345},{"x":1300,"y":-290,"l":-302,"h":-278},{"x":1350,"y":-220,"l":-230,"h":-210},{"x":1420,"y":-150,"l":-160,"h":-140},{"x":1500,"y":-95,"l":-105,"h":-85},{"x":1580,"y":-55,"l":-63,"h":-47},{"x":1660,"y":-25,"l":-33,"h":-17},{"x":1738,"y":-5,"l":-13,"h":3}],
"t_ktb":[
{"i":1,"x":17,"y":-120},{"i":1,"x":150,"y":-150},{"i":1,"x":300,"y":-200},{"i":1,"x":450,"y":-260},{"i":1,"x":600,"y":-330},{"i":1,"x":700,"y":-380},{"i":1,"x":800,"y":-380},{"i":1,"x":900,"y":-330},{"i":1,"x":1000,"y":-300},{"i":1,"x":1100,"y":-320},{"i":1,"x":1180,"y":-360},{"i":1,"x":1250,"y":-300},{"i":1,"x":1350,"y":-210},{"i":1,"x":1500,"y":-165},{"i":1,"x":1738,"y":-181},
{"i":3,"x":17,"y":-155},{"i":3,"x":200,"y":-190},{"i":3,"x":400,"y":-260},{"i":3,"x":550,"y":-340},{"i":3,"x":620,"y":-440},{"i":3,"x":673,"y":-594},{"i":3,"x":720,"y":-450},{"i":3,"x":800,"y":-350},{"i":3,"x":900,"y":-330},{"i":3,"x":1000,"y":-340},{"i":3,"x":1100,"y":-370},{"i":3,"x":1180,"y":-410},{"i":3,"x":1250,"y":-320},{"i":3,"x":1350,"y":-200},{"i":3,"x":1500,"y":-110},{"i":3,"x":1738,"y":-60},
{"i":6,"x":17,"y":-200},{"i":6,"x":200,"y":-230},{"i":6,"x":400,"y":-280},{"i":6,"x":550,"y":-340},{"i":6,"x":700,"y":-360},{"i":6,"x":850,"y":-390},{"i":6,"x":950,"y":-395},{"i":6,"x":1050,"y":-370},{"i":6,"x":1150,"y":-330},{"i":6,"x":1200,"y":-300},{"i":6,"x":1300,"y":-230},{"i":6,"x":1400,"y":-170},{"i":6,"x":1500,"y":-140},{"i":6,"x":1738,"y":-100},
{"i":80,"x":17,"y":-170},{"i":80,"x":200,"y":-200},{"i":80,"x":350,"y":-250},{"i":80,"x":450,"y":-310},{"i":80,"x":520,"y":-420},{"i":80,"x":570,"y":-600},{"i":80,"x":620,"y":-480},{"i":80,"x":720,"y":-350},{"i":80,"x":850,"y":-320},{"i":80,"x":1000,"y":-340},{"i":80,"x":1100,"y":-410},{"i":80,"x":1170,"y":-520},{"i":80,"x":1200,"y":-600},{"i":80,"x":1240,"y":-480},{"i":80,"x":1320,"y":-290},{"i":80,"x":1450,"y":-170},{"i":80,"x":1600,"y":-80},{"i":80,"x":1738,"y":-30},
{"i":220,"x":17,"y":-160},{"i":220,"x":200,"y":-195},{"i":220,"x":350,"y":-245},{"i":220,"x":450,"y":-300},{"i":220,"x":520,"y":-380},{"i":220,"x":570,"y":-470},{"i":220,"x":620,"y":-460},{"i":220,"x":720,"y":-340},{"i":220,"x":850,"y":-305},{"i":220,"x":1000,"y":-330},{"i":220,"x":1100,"y":-400},{"i":220,"x":1170,"y":-500},{"i":220,"x":1200,"y":-610},{"i":220,"x":1240,"y":-520},{"i":220,"x":1320,"y":-300},{"i":220,"x":1450,"y":-160},{"i":220,"x":1600,"y":-75},{"i":220,"x":1738,"y":-30},
{"i":300,"x":17,"y":-120},{"i":300,"x":200,"y":-160},{"i":300,"x":350,"y":-205},{"i":300,"x":450,"y":-255},{"i":300,"x":520,"y":-315},{"i":300,"x":570,"y":-390},{"i":300,"x":620,"y":-420},{"i":300,"x":720,"y":-315},{"i":300,"x":850,"y":-280},{"i":300,"x":1000,"y":-300},{"i":300,"x":1100,"y":-370},{"i":300,"x":1170,"y":-480},{"i":300,"x":1200,"y":-600},{"i":300,"x":1240,"y":-470},{"i":300,"x":1320,"y":-240},{"i":300,"x":1450,"y":-120},{"i":300,"x":1600,"y":-45},{"i":300,"x":1738,"y":-5},
{"i":360,"x":17,"y":-150},{"i":360,"x":200,"y":-185},{"i":360,"x":350,"y":-230},{"i":360,"x":450,"y":-285},{"i":360,"x":520,"y":-350},{"i":360,"x":570,"y":-450},{"i":360,"x":620,"y":-470},{"i":360,"x":720,"y":-345},{"i":360,"x":850,"y":-310},{"i":360,"x":1000,"y":-335},{"i":360,"x":1100,"y":-410},{"i":360,"x":1170,"y":-560},{"i":360,"x":1200,"y":-660},{"i":360,"x":1240,"y":-540},{"i":360,"x":1320,"y":-280},{"i":360,"x":1450,"y":-145},{"i":360,"x":1600,"y":-62},{"i":360,"x":1738,"y":-15},
{"i":380,"x":17,"y":-140},{"i":380,"x":200,"y":-178},{"i":380,"x":350,"y":-222},{"i":380,"x":450,"y":-275},{"i":380,"x":520,"y":-345},{"i":380,"x":570,"y":-470},{"i":380,"x":620,"y":-500},{"i":380,"x":720,"y":-350},{"i":380,"x":850,"y":-305},{"i":380,"x":1000,"y":-325},{"i":380,"x":1100,"y":-400},{"i":380,"x":1170,"y":-540},{"i":380,"x":1200,"y":-700},{"i":380,"x":1240,"y":-560},{"i":380,"x":1320,"y":-270},{"i":380,"x":1450,"y":-138},{"i":380,"x":1600,"y":-56},{"i":380,"x":1738,"y":-10},
{"i":400,"x":17,"y":-135},{"i":400,"x":200,"y":-170},{"i":400,"x":350,"y":-215},{"i":400,"x":450,"y":-265},{"i":400,"x":520,"y":-330},{"i":400,"x":570,"y":-420},{"i":400,"x":620,"y":-440},{"i":400,"x":720,"y":-330},{"i":400,"x":850,"y":-300},{"i":400,"x":1000,"y":-320},{"i":400,"x":1100,"y":-390},{"i":400,"x":1170,"y":-520},{"i":400,"x":1200,"y":-640},{"i":400,"x":1240,"y":-500},{"i":400,"x":1320,"y":-260},{"i":400,"x":1450,"y":-130},{"i":400,"x":1600,"y":-50},{"i":400,"x":1738,"y":-5}],
"u_ktb":[
{"i":10,"x":17,"y":-63},{"i":10,"x":200,"y":-120},{"i":10,"x":400,"y":-200},{"i":10,"x":600,"y":-250},{"i":10,"x":800,"y":-260},{"i":10,"x":1000,"y":-265},{"i":10,"x":1125,"y":-265},{"i":10,"x":1200,"y":-235},{"i":10,"x":1297,"y":-183},
{"i":60,"x":17,"y":-70},{"i":60,"x":250,"y":-160},{"i":60,"x":400,"y":-250},{"i":60,"x":500,"y":-350},{"i":60,"x":560,"y":-460},{"i":60,"x":600,"y":-590},{"i":60,"x":680,"y":-420},{"i":60,"x":850,"y":-340},{"i":60,"x":1000,"y":-350},{"i":60,"x":1100,"y":-410},{"i":60,"x":1160,"y":-520},{"i":60,"x":1200,"y":-620},{"i":60,"x":1250,"y":-450},{"i":60,"x":1350,"y":-260},{"i":60,"x":1500,"y":-150},{"i":60,"x":1738,"y":-80},
{"i":120,"x":17,"y":-10},{"i":120,"x":150,"y":-120},{"i":120,"x":300,"y":-220},{"i":120,"x":450,"y":-330},{"i":120,"x":520,"y":-450},{"i":120,"x":580,"y":-560},{"i":120,"x":680,"y":-420},{"i":120,"x":850,"y":-330},{"i":120,"x":1000,"y":-420},{"i":120,"x":1100,"y":-560},{"i":120,"x":1150,"y":-680},
{"i":180,"x":17,"y":-140},{"i":180,"x":250,"y":-180},{"i":180,"x":400,"y":-250},{"i":180,"x":500,"y":-320},{"i":180,"x":560,"y":-420},{"i":180,"x":600,"y":-500},{"i":180,"x":680,"y":-390},{"i":180,"x":850,"y":-330},{"i":180,"x":1000,"y":-340},{"i":180,"x":1100,"y":-380},{"i":180,"x":1160,"y":-460},{"i":180,"x":1200,"y":-560},{"i":180,"x":1250,"y":-420},{"i":180,"x":1350,"y":-250},{"i":180,"x":1500,"y":-120},{"i":180,"x":1738,"y":-30},
{"i":230,"x":17,"y":-100},{"i":230,"x":250,"y":-160},{"i":230,"x":400,"y":-230},{"i":230,"x":500,"y":-300},{"i":230,"x":560,"y":-380},{"i":230,"x":600,"y":-440},{"i":230,"x":680,"y":-360},{"i":230,"x":850,"y":-290},{"i":230,"x":1000,"y":-280},{"i":230,"x":1100,"y":-330},{"i":230,"x":1160,"y":-420},{"i":230,"x":1200,"y":-520},{"i":230,"x":1250,"y":-380},{"i":230,"x":1350,"y":-200},{"i":230,"x":1500,"y":-80},{"i":230,"x":1738,"y":10},
{"i":250,"x":17,"y":-170},{"i":250,"x":250,"y":-200},{"i":250,"x":400,"y":-270},{"i":250,"x":500,"y":-330},{"i":250,"x":560,"y":-400},{"i":250,"x":600,"y":-470},{"i":250,"x":680,"y":-380},{"i":250,"x":850,"y":-320},{"i":250,"x":1000,"y":-330},{"i":250,"x":1100,"y":-370},{"i":250,"x":1160,"y":-450},{"i":250,"x":1200,"y":-540},{"i":250,"x":1250,"y":-400},{"i":250,"x":1350,"y":-250},{"i":250,"x":1500,"y":-130},{"i":250,"x":1738,"y":-40},
{"i":280,"x":17,"y":-200},{"i":280,"x":250,"y":-230},{"i":280,"x":400,"y":-290},{"i":280,"x":500,"y":-360},{"i":280,"x":560,"y":-450},{"i":280,"x":600,"y":-520},{"i":280,"x":680,"y":-400},{"i":280,"x":850,"y":-330},{"i":280,"x":1000,"y":-330},{"i":280,"x":1100,"y":-380},{"i":280,"x":1160,"y":-470},{"i":280,"x":1200,"y":-560},{"i":280,"x":1250,"y":-420},{"i":280,"x":1350,"y":-260},{"i":280,"x":1500,"y":-150},{"i":280,"x":1738,"y":-60},
{"i":300,"x":17,"y":-130},{"i":300,"x":250,"y":-170},{"i":300,"x":400,"y":-240},{"i":300,"x":500,"y":-320},{"i":300,"x":560,"y":-430},{"i":300,"x":600,"y":-520},{"i":300,"x":680,"y":-390},{"i":300,"x":850,"y":-310},{"i":300,"x":1000,"y":-310},{"i":300,"x":1100,"y":-370},{"i":300,"x":1160,"y":-470},{"i":300,"x":1200,"y":-580},{"i":300,"x":1250,"y":-430},{"i":300,"x":1350,"y":-230},{"i":300,"x":1500,"y":-100},{"i":300,"x":1738,"y":-10},
{"i":320,"x":17,"y":-160},{"i":320,"x":250,"y":-190},{"i":320,"x":400,"y":-260},{"i":320,"x":500,"y":-330},{"i":320,"x":560,"y":-420},{"i":320,"x":600,"y":-500},{"i":320,"x":680,"y":-380},{"i":320,"x":850,"y":-280},{"i":320,"x":1000,"y":-270},{"i":320,"x":1100,"y":-320},{"i":320,"x":1160,"y":-430},{"i":320,"x":1200,"y":-560},{"i":320,"x":1250,"y":-400},{"i":320,"x":1350,"y":-220},{"i":320,"x":1500,"y":-120},{"i":320,"x":1738,"y":-40},
{"i":340,"x":17,"y":-120},{"i":340,"x":250,"y":-180},{"i":340,"x":400,"y":-250},{"i":340,"x":500,"y":-340},{"i":340,"x":560,"y":-470},{"i":340,"x":600,"y":-560},{"i":340,"x":680,"y":-400},{"i":340,"x":850,"y":-300},{"i":340,"x":1000,"y":-300},{"i":340,"x":1100,"y":-360},{"i":340,"x":1160,"y":-480},{"i":340,"x":1200,"y":-600},{"i":340,"x":1250,"y":-420},{"i":340,"x":1350,"y":-210},{"i":340,"x":1500,"y":-90},{"i":340,"x":1738,"y":0},
{"i":355,"x":17,"y":-100},{"i":355,"x":250,"y":-160},{"i":355,"x":400,"y":-230},{"i":355,"x":500,"y":-330},{"i":355,"x":560,"y":-480},{"i":355,"x":600,"y":-600},{"i":355,"x":680,"y":-420},{"i":355,"x":850,"y":-290},{"i":355,"x":1000,"y":-290},{"i":355,"x":1100,"y":-350},{"i":355,"x":1160,"y":-470},{"i":355,"x":1200,"y":-640},{"i":355,"x":1250,"y":-450},{"i":355,"x":1350,"y":-220},{"i":355,"x":1500,"y":-90},{"i":355,"x":1738,"y":10},
{"i":370,"x":17,"y":-180},{"i":370,"x":250,"y":-215},{"i":370,"x":400,"y":-280},{"i":370,"x":500,"y":-370},{"i":370,"x":560,"y":-520},{"i":370,"x":600,"y":-600},{"i":370,"x":680,"y":-440},{"i":370,"x":850,"y":-340},{"i":370,"x":1000,"y":-350},{"i":370,"x":1100,"y":-400},{"i":370,"x":1160,"y":-520},{"i":370,"x":1200,"y":-650},{"i":370,"x":1250,"y":-480},{"i":370,"x":1350,"y":-280},{"i":370,"x":1500,"y":-140},{"i":370,"x":1738,"y":-30},
{"i":390,"x":17,"y":-230},{"i":390,"x":250,"y":-250},{"i":390,"x":400,"y":-310},{"i":390,"x":500,"y":-390},{"i":390,"x":560,"y":-500},{"i":390,"x":600,"y":-560},{"i":390,"x":680,"y":-430},{"i":390,"x":850,"y":-350},{"i":390,"x":1000,"y":-350},{"i":390,"x":1100,"y":-400},{"i":390,"x":1160,"y":-500},{"i":390,"x":1200,"y":-620},{"i":390,"x":1250,"y":-500},{"i":390,"x":1350,"y":-300},{"i":390,"x":1500,"y":-170},{"i":390,"x":1738,"y":-60},
{"i":400,"x":17,"y":-150},{"i":400,"x":250,"y":-200},{"i":400,"x":400,"y":-270},{"i":400,"x":500,"y":-380},{"i":400,"x":560,"y":-540},{"i":400,"x":600,"y":-620},{"i":400,"x":680,"y":-420},{"i":400,"x":850,"y":-310},{"i":400,"x":1000,"y":-320},{"i":400,"x":1100,"y":-380},{"i":400,"x":1160,"y":-500},{"i":400,"x":1200,"y":-660},{"i":400,"x":1250,"y":-470},{"i":400,"x":1350,"y":-240},{"i":400,"x":1500,"y":-110},{"i":400,"x":1738,"y":0}]
},
"spacing":89,
"bounds":"full",
"resolve":{"scale":{"color":"shared","shape":"shared","fill":"shared","stroke":"shared"}},
"vconcat":[
{"spacing":41.5,"bounds":"flush","resolve":{"scale":{"color":"shared","shape":"shared","fill":"shared","stroke":"shared"}},
"hconcat":[
{"width":268,"height":240,"title":{"text":"Süleymanköy"},
"encoding":{"x":{"field":"x","type":"quantitative","scale":{"domain":[8,188],"nice":false,"zero":false},"axis":{"values":[50,100,150],"labels":false},"title":null},
"y":{"field":"y","type":"quantitative","scale":{"domain":[-300,150],"nice":false,"zero":false},"axis":{"values":[100,0,-100,-200,-300],"labelExpr":"abs(datum.value)%200==100?''+datum.value:''"},"title":"SP Anomaly (mV)"}},
"layer":[
{"data":{"name":"t_sul"},"mark":{"type":"line","interpolate":"monotone","clip":true,"strokeWidth":1.4},"encoding":{"detail":{"field":"i","type":"nominal"},"color":{"field":"i","type":"quantitative","scale":{"domain":[1,50,100,150,200,250,300,350,400],"range":["#151d44","#1c4a64","#1f7d75","#76b08f","#fbf7f2","#eaa98f","#cf6a63","#8e2159","#340d35"]},"legend":{"title":"Iterations","orient":"none","direction":"horizontal","legendX":742,"legendY":259,"gradientLength":322,"gradientThickness":16,"values":[1,200,400],"labelAlign":"center","labelFontSize":20,"titleFontSize":22,"titleFontWeight":"normal","titleAnchor":"middle","titlePadding":8,"labelOffset":4}}}},
{"data":{"name":"s_sul"},"mark":{"type":"point","filled":true,"size":55,"strokeWidth":0.7,"opacity":1},"encoding":{
"shape":{"datum":"s","scale":{"domain":["s","b","m"],"range":["triangle-up","M-2.2,0H2.2M0,-1.4V1.4M-0.6,-1.4H0.6M-0.6,1.4H0.6","M-2.2,0H2.2M0,-1.4V1.4M-0.6,-1.4H0.6M-0.6,1.4H0.6"]},"legend":{"title":null,"orient":"none","direction":"horizontal","legendX":8,"legendY":287,"labelExpr":"datum.label=='s'?'SP anomaly':datum.label=='b'?'Mean output of BMO':'Mean output of MBMO'","labelFontSize":22,"symbolSize":60,"symbolStrokeWidth":1.3,"columnPadding":19,"labelOffset":12}},
"fill":{"datum":"s","scale":{"domain":["s","b","m"],"range":["#22e622","transparent","transparent"]},"legend":{"title":null,"orient":"none","direction":"horizontal","legendX":8,"legendY":287,"labelExpr":"datum.label=='s'?'SP anomaly':datum.label=='b'?'Mean output of BMO':'Mean output of MBMO'","labelFontSize":22,"symbolSize":60,"symbolStrokeWidth":1.3,"columnPadding":19,"labelOffset":12}},
"stroke":{"datum":"s","scale":{"domain":["s","b","m"],"range":["black","#ff00ff","#ff7b1c"]},"legend":{"title":null,"orient":"none","direction":"horizontal","legendX":8,"legendY":287,"labelExpr":"datum.label=='s'?'SP anomaly':datum.label=='b'?'Mean output of BMO':'Mean output of MBMO'","labelFontSize":22,"symbolSize":60,"symbolStrokeWidth":1.3,"columnPadding":19,"labelOffset":12}}}},
{"data":{"name":"b_sul"},"mark":{"type":"line","interpolate":"monotone","clip":true,"color":"#ff00ff","strokeWidth":1.3}},
{"data":{"name":"b_sul"},"mark":{"type":"errorbar","ticks":{"size":6},"color":"#ff00ff","thickness":1},"encoding":{"y":{"field":"l","type":"quantitative","title":"SP Anomaly (mV)"},"y2":{"field":"h"}}}]},
{"width":268,"height":240,"title":{"text":"Senneterre"},
"encoding":{"x":{"field":"x","type":"quantitative","scale":{"domain":[62,269],"nice":false,"zero":false},"axis":{"values":[100,150,200,250],"labels":false},"title":null},
"y":{"field":"y","type":"quantitative","scale":{"domain":[-600,115],"nice":false,"zero":false},"axis":{"values":[0,-200,-400,-600],"labelExpr":"''+datum.value"},"title":null}},
"layer":[
{"data":{"name":"t_sen"},"mark":{"type":"line","interpolate":"monotone","clip":true,"strokeWidth":1.3},"encoding":{"detail":{"field":"i","type":"nominal"},"color":{"field":"i","type":"quantitative"}}},
{"data":{"name":"s_sen"},"mark":{"type":"point","filled":true,"size":55,"strokeWidth":0.7,"opacity":1},"encoding":{"shape":{"datum":"s"},"fill":{"datum":"s"},"stroke":{"datum":"s"}}},
{"data":{"name":"b_sen"},"mark":{"type":"line","interpolate":"monotone","clip":true,"color":"#ff00ff","strokeWidth":1.3}},
{"data":{"name":"b_sen"},"mark":{"type":"errorbar","ticks":{"size":6},"color":"#ff00ff","thickness":1},"encoding":{"y":{"field":"l","type":"quantitative","title":null},"y2":{"field":"h"}}}]},
{"width":268,"height":240,"title":{"text":"Neem-ka Thanna"},
"encoding":{"x":{"field":"x","type":"quantitative","scale":{"domain":[52,300],"nice":false,"zero":false},"axis":{"values":[100,150,200,250],"labels":false},"title":null},
"y":{"field":"y","type":"quantitative","scale":{"domain":[-90,-9],"nice":false,"zero":false},"axis":{"values":[-20,-40,-60,-80],"labelExpr":"''+datum.value"},"title":null}},
"layer":[
{"data":{"name":"t_nee"},"mark":{"type":"line","interpolate":"monotone","clip":true,"strokeWidth":1.4},"encoding":{"detail":{"field":"i","type":"nominal"},"color":{"field":"i","type":"quantitative"}}},
{"data":{"name":"s_nee"},"mark":{"type":"point","filled":true,"size":55,"strokeWidth":0.7,"opacity":1},"encoding":{"shape":{"datum":"s"},"fill":{"datum":"s"},"stroke":{"datum":"s"}}},
{"data":{"name":"b_nee"},"mark":{"type":"line","interpolate":"monotone","clip":true,"color":"#ff00ff","strokeWidth":1.3}},
{"data":{"name":"b_nee"},"mark":{"type":"errorbar","ticks":{"size":6},"color":"#ff00ff","thickness":1},"encoding":{"y":{"field":"l","type":"quantitative","title":null},"y2":{"field":"h"}}}]},
{"width":268,"height":240,"title":{"text":"KTB"},
"encoding":{"x":{"field":"x","type":"quantitative","scale":{"domain":[17,1738],"nice":false,"zero":false},"axis":{"values":[200,600,1000,1400],"labels":false},"title":null},
"y":{"field":"y","type":"quantitative","scale":{"domain":[-648,-1],"nice":false,"zero":false},"axis":{"values":[-100,-300,-500],"labelExpr":"''+datum.value"},"title":null}},
"layer":[
{"data":{"name":"t_ktb"},"mark":{"type":"line","interpolate":"monotone","clip":true,"strokeWidth":2.2},"encoding":{"detail":{"field":"i","type":"nominal"},"color":{"field":"i","type":"quantitative"}}},
{"data":{"name":"s_ktb"},"mark":{"type":"point","filled":true,"size":55,"strokeWidth":0.7,"opacity":1},"encoding":{"shape":{"datum":"s"},"fill":{"datum":"s"},"stroke":{"datum":"s"}}},
{"data":{"name":"b_ktb"},"mark":{"type":"line","interpolate":"monotone","clip":true,"color":"#ff00ff","strokeWidth":1.3}},
{"data":{"name":"b_ktb"},"mark":{"type":"errorbar","ticks":{"size":6},"color":"#ff00ff","thickness":1},"encoding":{"y":{"field":"l","type":"quantitative","title":null},"y2":{"field":"h"}}}]}
]},
{"spacing":41.5,"bounds":"flush","resolve":{"scale":{"color":"shared","shape":"shared","fill":"shared","stroke":"shared"}},
"hconcat":[
{"width":268,"height":240,"title":{"text":"Süleymanköy"},
"encoding":{"x":{"field":"x","type":"quantitative","scale":{"domain":[8,188],"nice":false,"zero":false},"axis":{"values":[50,100,150],"labelExpr":"''+datum.value"},"title":"Distance (m)"},
"y":{"field":"y","type":"quantitative","scale":{"domain":[-300,150],"nice":false,"zero":false},"axis":{"values":[100,0,-100,-200,-300],"labelExpr":"abs(datum.value)%200==100?''+datum.value:''"},"title":"SP Anomaly (mV)"}},
"layer":[
{"data":{"name":"u_sul"},"mark":{"type":"line","interpolate":"monotone","clip":true,"strokeWidth":1.4},"encoding":{"detail":{"field":"i","type":"nominal"},"color":{"field":"i","type":"quantitative"}}},
{"data":{"name":"s_sul"},"mark":{"type":"point","filled":true,"size":55,"strokeWidth":0.7,"opacity":1},"encoding":{"shape":{"datum":"s"},"fill":{"datum":"s"},"stroke":{"datum":"s"}}},
{"data":{"name":"m_sul"},"mark":{"type":"line","interpolate":"monotone","clip":true,"color":"#ff7b1c","strokeWidth":1.5}},
{"data":{"name":"m_sul"},"mark":{"type":"errorbar","ticks":{"size":6},"color":"#ff7b1c","thickness":1},"encoding":{"y":{"field":"l","type":"quantitative","title":"SP Anomaly (mV)"},"y2":{"field":"h"}}}]},
{"width":268,"height":240,"title":{"text":"Senneterre"},
"encoding":{"x":{"field":"x","type":"quantitative","scale":{"domain":[62,269],"nice":false,"zero":false},"axis":{"values":[100,150,200,250],"labelExpr":"''+datum.value"},"title":"Distance (m)"},
"y":{"field":"y","type":"quantitative","scale":{"domain":[-600,129],"nice":false,"zero":false},"axis":{"values":[0,-200,-400,-600],"labelExpr":"''+datum.value"},"title":null}},
"layer":[
{"data":{"name":"u_sen"},"mark":{"type":"line","interpolate":"monotone","clip":true,"strokeWidth":1.4},"encoding":{"detail":{"field":"i","type":"nominal"},"color":{"field":"i","type":"quantitative"}}},
{"data":{"name":"s_sen"},"mark":{"type":"point","filled":true,"size":55,"strokeWidth":0.7,"opacity":1},"encoding":{"shape":{"datum":"s"},"fill":{"datum":"s"},"stroke":{"datum":"s"}}},
{"data":{"name":"m_sen"},"mark":{"type":"line","interpolate":"monotone","clip":true,"color":"#ff7b1c","strokeWidth":1.5}},
{"data":{"name":"m_sen"},"mark":{"type":"errorbar","ticks":{"size":6},"color":"#ff7b1c","thickness":1},"encoding":{"y":{"field":"l","type":"quantitative","title":null},"y2":{"field":"h"}}}]},
{"width":268,"height":240,"title":{"text":"Neem-ka Thanna"},
"encoding":{"x":{"field":"x","type":"quantitative","scale":{"domain":[52,300],"nice":false,"zero":false},"axis":{"values":[100,150,200,250],"labelExpr":"''+datum.value"},"title":"Distance (m)"},
"y":{"field":"y","type":"quantitative","scale":{"domain":[-91,-7],"nice":false,"zero":false},"axis":{"values":[-20,-40,-60,-80],"labelExpr":"''+datum.value"},"title":null}},
"layer":[
{"data":{"name":"u_nee"},"mark":{"type":"line","interpolate":"monotone","clip":true,"strokeWidth":1.4},"encoding":{"detail":{"field":"i","type":"nominal"},"color":{"field":"i","type":"quantitative"}}},
{"data":{"name":"s_nee"},"mark":{"type":"point","filled":true,"size":55,"strokeWidth":0.7,"opacity":1},"encoding":{"shape":{"datum":"s"},"fill":{"datum":"s"},"stroke":{"datum":"s"}}},
{"data":{"name":"m_nee"},"mark":{"type":"line","interpolate":"monotone","clip":true,"color":"#ff7b1c","strokeWidth":1.5}},
{"data":{"name":"m_nee"},"mark":{"type":"errorbar","ticks":{"size":6},"color":"#ff7b1c","thickness":1},"encoding":{"y":{"field":"l","type":"quantitative","title":null},"y2":{"field":"h"}}}]},
{"width":268,"height":240,"title":{"text":"KTB"},
"encoding":{"x":{"field":"x","type":"quantitative","scale":{"domain":[17,1738],"nice":false,"zero":false},"axis":{"values":[200,600,1000,1400],"labelExpr":"''+datum.value"},"title":"Distance (m)"},
"y":{"field":"y","type":"quantitative","scale":{"domain":[-661,4],"nice":false,"zero":false},"axis":{"values":[-100,-300,-500],"labelExpr":"''+datum.value"},"title":null}},
"layer":[
{"data":{"name":"u_ktb"},"mark":{"type":"line","interpolate":"monotone","clip":true,"strokeWidth":2.2},"encoding":{"detail":{"field":"i","type":"nominal"},"color":{"field":"i","type":"quantitative"}}},
{"data":{"name":"s_ktb"},"mark":{"type":"point","filled":true,"size":55,"strokeWidth":0.7,"opacity":1},"encoding":{"shape":{"datum":"s"},"fill":{"datum":"s"},"stroke":{"datum":"s"}}},
{"data":{"name":"m_ktb"},"mark":{"type":"line","interpolate":"monotone","clip":true,"color":"#ff7b1c","strokeWidth":1.5}},
{"data":{"name":"m_ktb"},"mark":{"type":"errorbar","ticks":{"size":6},"color":"#ff7b1c","thickness":1},"encoding":{"y":{"field":"l","type":"quantitative","title":null},"y2":{"field":"h"}}}]}
]}
]
}
